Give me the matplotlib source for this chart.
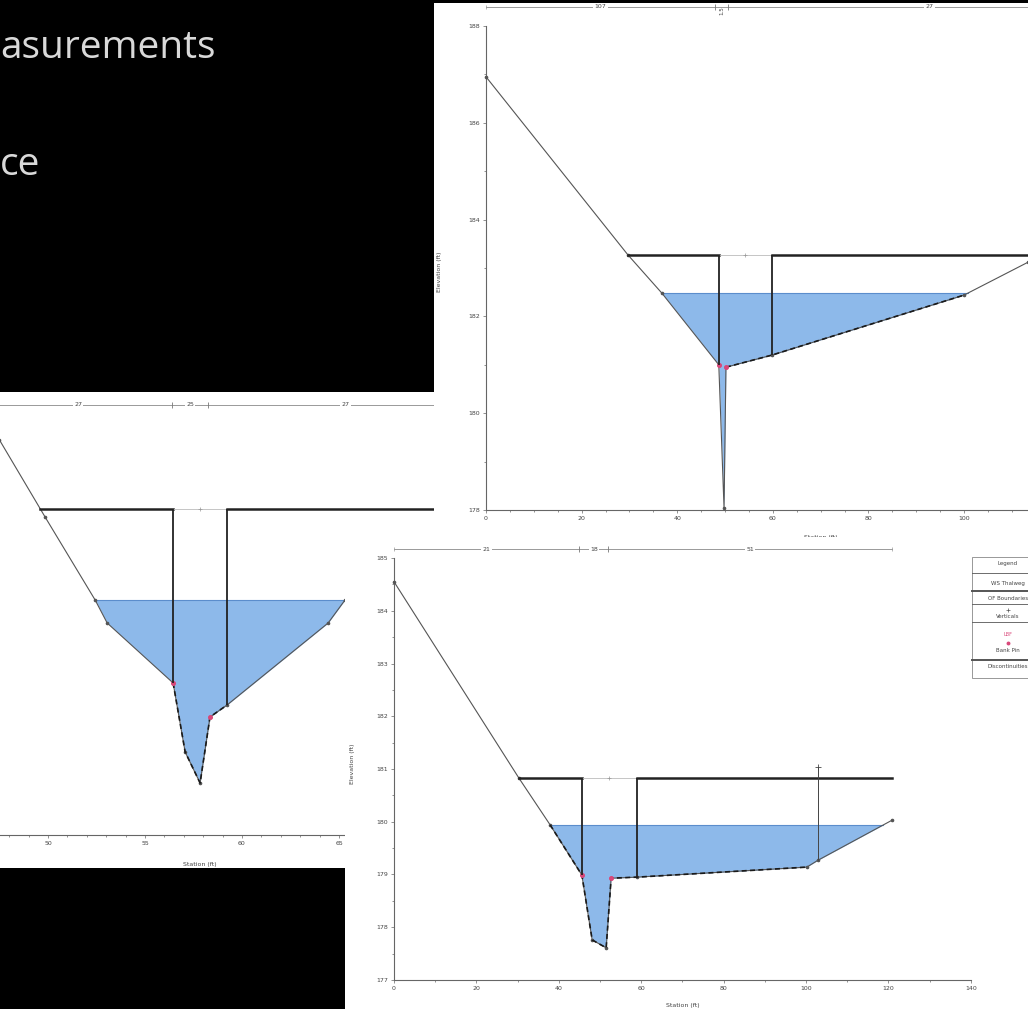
import numpy as np
import matplotlib.pyplot as plt

W, H = 1028, 1009

# ---- section A (top right screenshot) ----
sta_a = [0.0, 29.7, 36.8, 48.7, 49.8, 50.2, 59.8, 100.0, 113.4, 120.0]
elev_a = [186.95, 183.27, 182.48, 181.0, 178.04, 180.95, 181.2, 182.44, 183.12, 183.3]
ws_a = 182.48
bank_a = 183.27
verts_a = [48.7, 59.8]
dims_a = [0.0, 47.9, 50.6, 135.0]
dim_labels_a = ["107", "1.5", "27"]

# ---- section B (bottom left screenshot) ----
sta_b = [47.5, 49.85, 52.43, 53.05, 56.45, 57.07, 57.84, 58.35, 59.23, 64.44, 65.31, 70.0]
elev_b = [184.9, 183.36, 181.7, 181.24, 180.04, 178.66, 178.04, 179.36, 179.6, 181.24, 181.7, 182.6]
ws_b = 181.7
bank_b = 183.52
verts_b = [56.45, 59.23]
dims_b = [46.7, 56.4, 58.25, 72.4]
dim_labels_b = ["27", "25", "27"]

# ---- section C (bottom right screenshot) ----
sta_c = [0.0, 30.3, 37.9, 45.6, 48.1, 51.5, 52.7, 59.0, 100.2, 102.9, 120.9]
elev_c = [184.55, 180.83, 179.94, 178.99, 177.76, 177.61, 178.93, 178.95, 179.14, 179.27, 180.03]
ws_c = 179.94
bank_c = 180.83
verts_c = [45.6, 59.0]
pin_c = 102.9
dims_c = [0.0, 45.0, 52.0, 120.9]
dim_labels_c = ["21", "18", "51"]

legend_rows = ["Legend", "WS Thalweg", "OF Boundaries", "Verticals", "Bank Pin", "Discontinuities"]

FILL = "#8db9ea"
GRID = "#666666"
TXT = "#444444"
FS = 4.5

fig = plt.figure(figsize=(W / 100, H / 100), dpi=100, facecolor="black")


def panel(px0, py0, px1, py1, xref, xpx, xs, yref, ypy, ys, z):
    ax = fig.add_axes([px0 / W, 1 - py1 / H, (px1 - px0) / W, (py1 - py0) / H], zorder=z)
    ax.set_xlim(xref + (px0 - xpx) / xs, xref + (px1 - xpx) / xs)
    ax.set_ylim(yref - (py1 - ypy) / ys, yref + (ypy - py0) / ys)
    ax.set_facecolor("white")
    ax.spines["top"].set_visible(False)
    ax.spines["right"].set_visible(False)
    for s in ["left", "bottom"]:
        ax.spines[s].set_color(GRID)
        ax.spines[s].set_linewidth(0.8)
    ax.tick_params(which="both", colors=GRID, labelcolor=TXT, labelsize=FS, length=2.5, width=0.5, pad=2)
    ax.tick_params(which="minor", length=1.5)
    return ax


def crossing(sta, elev, level, left=True):
    idx = range(len(sta) - 1) if left else range(len(sta) - 2, -1, -1)
    for i in idx:
        a, b = elev[i] - level, elev[i + 1] - level
        if a == 0:
            return sta[i]
        if a * b < 0:
            return sta[i] + (sta[i + 1] - sta[i]) * a / (a - b)
    return sta[-1] if not left else sta[0]


def section(ax, sta, elev, ws, bank, verts, wet, pink):
    sta = np.array(sta)
    elev = np.array(elev)
    ax.fill_between(sta, elev, ws, where=elev < ws, interpolate=True,
                    color=FILL, lw=0, zorder=1)
    wl = crossing(sta, elev, ws, True)
    wr = crossing(sta, elev, ws, False)
    ax.plot([wl, wr], [ws, ws], color="#5b8dcc", lw=0.8, zorder=2)
    ax.plot(sta, elev, color="#555555", lw=0.8, marker="o", ms=1.6, zorder=3)
    i0, i1 = wet
    ax.plot(sta[i0:i1 + 1], elev[i0:i1 + 1], color="#1a1a1a", lw=1.2,
            ls=(0, (3, 2)), zorder=4)
    ax.plot(sta[pink], elev[pink], "o", color="#d9487a", ms=2.6, zorder=5)
    bl = crossing(sta, elev, bank, True)
    ax.plot([bl, verts[0]], [bank, bank], color="#222222", lw=1.8, zorder=5)
    ax.plot([verts[0], verts[1]], [bank, bank], color="#bbbbbb", lw=0.6, zorder=5)
    ax.plot([verts[1], sta[-1]], [bank, bank], color="#222222", lw=1.8, zorder=5)
    ax.plot([(verts[0] + verts[1]) / 2], [bank], "+", color="#999999", ms=3, mew=0.5, zorder=5)
    ax.vlines(verts, np.interp(verts, sta, elev), bank, color="#222222", lw=1.3, zorder=5)


def dims(ax, xs, y, labels, rot_mid=False):
    ax.plot([xs[0], xs[-1]], [y, y], color="#999999", lw=0.7, zorder=2,
            marker="|", ms=3, mew=0.5, markevery=[0, 1])
    ax.plot(xs[1:-1], [y] * (len(xs) - 2), "|", color="#777777", ms=4, mew=0.6, zorder=3)
    for k, lab in enumerate(labels):
        xm = (xs[k] + xs[k + 1]) / 2
        if rot_mid and k == 1:
            ax.text(xm, y, lab, rotation=90, ha="center", va="top", fontsize=FS - 0.5,
                    color=TXT, zorder=4)
        else:
            ax.text(xm, y, lab, ha="center", va="center", fontsize=FS, color=TXT,
                    zorder=4, bbox=dict(fc="white", ec="none", pad=1))


# ---- B: bottom left ----
axb = panel(0, 392, 520, 868, 50, 48, 19.4, 177, 835, 50, 1)
axb.spines["left"].set_visible(False)
axb.tick_params(axis="y", which="both", left=False, labelleft=False)
axb.spines["bottom"].set_position(("data", 177))
axb.spines["bottom"].set_bounds(47.5, 72)
axb.set_xticks([50, 55, 60, 65])
axb.set_xticks(np.arange(48, 72, 1), minor=True)
section(axb, sta_b, elev_b, ws_b, bank_b, verts_b, (4, 8), [4, 7])
dims(axb, dims_b, 185.6, dim_labels_b)
axb.set_xlabel("Station (ft)", fontsize=FS, color=TXT)
axb.xaxis.set_label_coords(0.385, 0.012)

# ---- A: top right ----
axa = panel(434, 3, 1028, 540, 0, 486, 4.78, 178, 510, 48.4, 2)
axa.spines["left"].set_position(("data", 0))
axa.spines["left"].set_bounds(178, 188)
axa.spines["bottom"].set_position(("data", 178))
axa.spines["bottom"].set_bounds(0, 125)
axa.set_yticks([178, 180, 182, 184, 186, 188])
axa.set_xticks([0, 20, 40, 60, 80, 100])
axa.set_xticks(np.arange(0, 111, 5), minor=True)
axa.set_yticks(np.arange(178, 189, 1), minor=True)
section(axa, sta_a, elev_a, ws_a, bank_a, verts_a, (5, 7), [3, 5])
dims(axa, dims_a, 188.4, dim_labels_a, rot_mid=True)
axa.set_xlabel("Station (ft)", fontsize=FS, color=TXT)
axa.xaxis.set_label_coords(0.652, 0.009)
axa.set_ylabel("Elevation (ft)", fontsize=FS, color=TXT)
axa.yaxis.set_label_coords(0.014, 0.5)

# ---- C: bottom right ----
axc = panel(345, 537, 1028, 1009, 0, 394, 4.12, 177, 980, 52.75, 3)
axc.spines["left"].set_position(("data", 0))
axc.spines["left"].set_bounds(177, 185)
axc.spines["bottom"].set_position(("data", 177))
axc.spines["bottom"].set_bounds(0, 140)
axc.set_yticks(np.arange(177, 186))
axc.set_xticks(np.arange(0, 141, 20))
axc.set_xticks(np.arange(0, 141, 10), minor=True)
axc.set_yticks(np.arange(177, 185.1, 0.5), minor=True)
section(axc, sta_c, elev_c, ws_c, bank_c, verts_c, (2, 8), [3, 6])
top_pin = bank_c + 0.2
axc.vlines([pin_c], np.interp([pin_c], sta_c, elev_c), top_pin, color="#444444", lw=0.7, zorder=5)
axc.plot([pin_c], [top_pin], "+", color="#444444", ms=4, mew=0.6, zorder=5)
dims(axc, dims_c, 185.17, dim_labels_c)
axc.set_xlabel("Station (ft)", fontsize=FS, color=TXT)
axc.xaxis.set_label_coords(0.495, 0.013)
axc.set_ylabel("Elevation (ft)", fontsize=FS, color=TXT)
axc.yaxis.set_label_coords(0.014, 0.52)

# legend box of section C
lx0, lx1 = (972 - 345) / 683, (1045 - 345) / 683
ly = lambda py: 1 - (py - 537) / 472
lc = (1008 - 345) / 683
tr = axc.transAxes
axc.add_patch(plt.Rectangle((lx0, ly(678)), lx1 - lx0, ly(557) - ly(678), transform=tr,
                            fc="white", ec="#888888", lw=0.6, zorder=6, clip_on=False))
row_y = [563, 583, 598, 617, 650, 667]
for lab, py in zip(legend_rows, row_y):
    axc.text(lc, ly(py), lab, transform=tr, ha="center", va="center", fontsize=4,
             color=TXT, zorder=7, clip_on=False)
for py, lw in [(573, 0.6), (591, 1.4), (604, 0.6), (622, 0.6), (660, 1.4)]:
    axc.plot([lx0, lx1], [ly(py), ly(py)], transform=tr, color="#555555", lw=lw, zorder=7,
             clip_on=False)
axc.plot([lc], [ly(610)], "+", transform=tr, color="#555555", ms=3, mew=0.5, zorder=7)
axc.plot([lc], [ly(643)], "o", transform=tr, color="#d9487a", ms=1.8, zorder=7)
axc.text(lc, ly(634), "LBF", transform=tr, ha="center", va="center", fontsize=3.5,
         color="#d9487a", zorder=7)

# slide text behind the screenshots
fig.text(0.0, 1 - 58 / H, "asurements", fontsize=28, color="#d9d9d9",
         family=["Open Sans", "DejaVu Sans"], ha="left", va="baseline", zorder=10)
fig.text(0.0, 1 - 175 / H, "ce", fontsize=28, color="#d9d9d9",
         family=["Open Sans", "DejaVu Sans"], ha="left", va="baseline", zorder=10)

fig.savefig("out.png", dpi=100, facecolor="black")
